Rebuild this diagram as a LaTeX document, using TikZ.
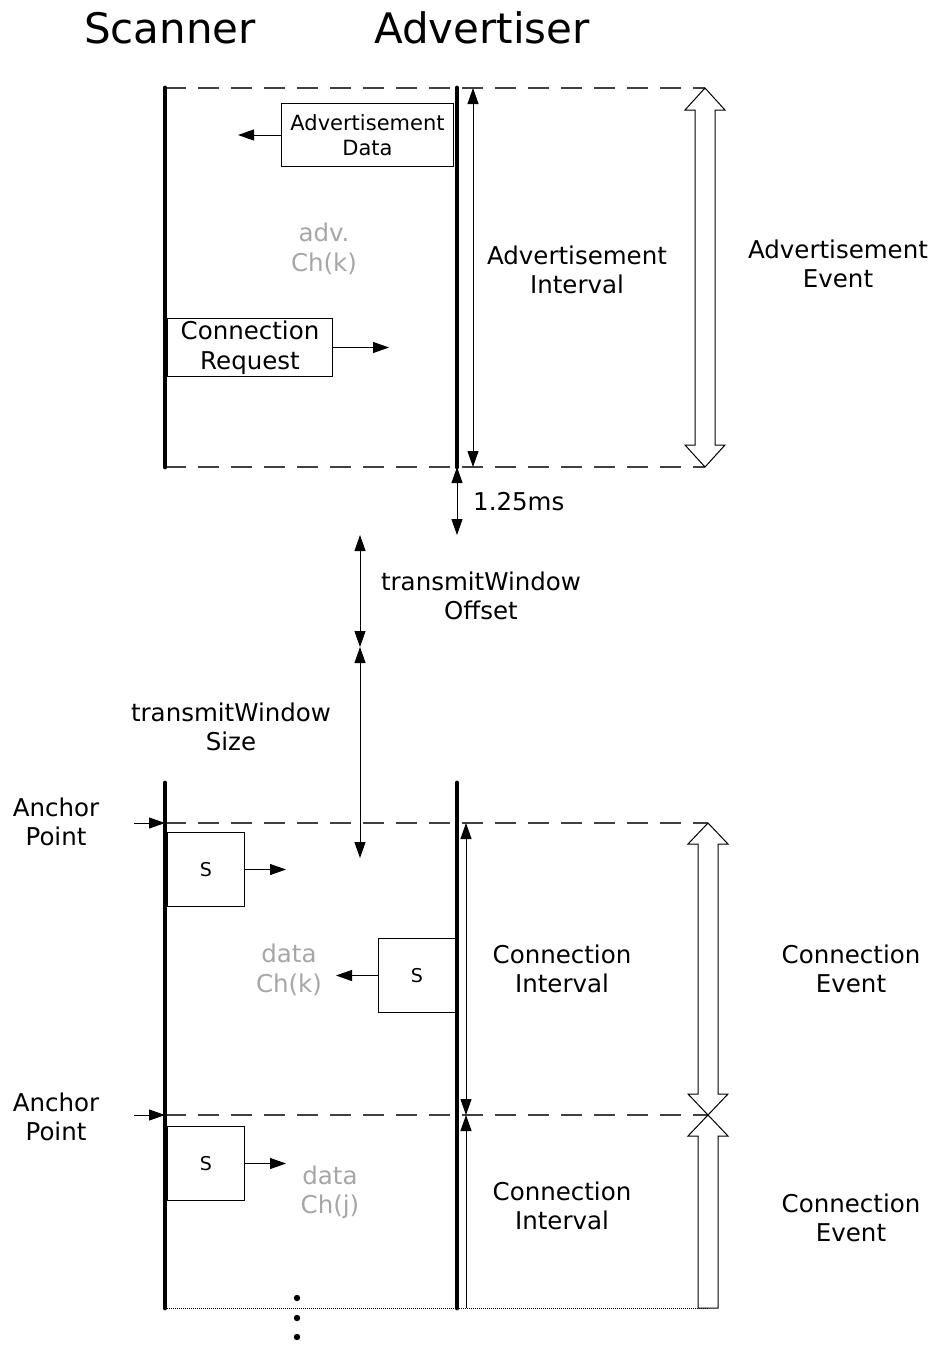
\documentclass[tikz,border=0pt]{standalone}
\usepackage{fontspec}
\setmainfont{DejaVu Sans}
\usetikzlibrary{arrows.meta,positioning,calc}
\definecolor{chgray}{HTML}{A6A6A6}
\definecolor{guidegray}{HTML}{404040}

\begin{document}
\begin{tikzpicture}[x=1pt, y=-1pt,
  lifeline/.style={line width=4.8pt, line cap=round},
  guide/.style={draw=guidegray, line width=1.2pt, dash pattern=on 21pt off 12pt},
  msgbox/.style={draw, line width=1pt, align=center, inner sep=0pt},
  lbl/.style={align=center, inner sep=0pt, font=\fontsize{24.5}{29.5}\selectfont},
  chlbl/.style={lbl, text=chgray},
  title/.style={inner sep=0pt, font=\fontsize{42}{50}\selectfont},
  arrow/.style={-{Triangle[length=16pt,width=11pt]}, line width=1pt},
  span/.style={{Triangle[length=16pt,width=11pt]}-{Triangle[length=16pt,width=11pt]}, line width=1pt},
  hollow/.style={draw, line width=1pt, fill=white, line join=miter}
]
  \useasboundingbox (0,0) rectangle (935,1345);

  % titles
  \node[title] (scanner) at (170,28) {Scanner};
  \node[title] (advertiser) at (482,28) {Advertiser};

  % --- advertising phase ---
  \coordinate (scnTop) at (165,88);   \coordinate (scnBot) at (165,467);
  \coordinate (advTop) at (457,88);   \coordinate (advBot) at (457,467);
  \coordinate (aeTop) at (705,88);    \coordinate (aeBot) at (705,467);
  \draw[guide] (scnTop) -- (aeTop);
  \draw[guide] (scnBot) -- (aeBot);

  \node[msgbox, minimum width=172pt, minimum height=63pt, anchor=north east,
        font=\fontsize{21}{25}\selectfont] (advdata) at (454,103) {Advertisement\\Data};
  \draw[arrow] (advdata.west) -- ++(-43,0) coordinate (advdataEnd);

  \node[chlbl] (advch) at (324,249) {adv.\\Ch(k)};

  \node[msgbox, minimum width=165pt, minimum height=58pt, anchor=north west,
        font=\fontsize{24.5}{29.5}\selectfont] (connreq) at (167,318) {Connection\\Request};
  \draw[arrow] (connreq.east) -- ++(56,0) coordinate (connreqEnd);

  \draw[lifeline] (scnTop) -- (scnBot);
  \draw[lifeline] (advTop) -- (advBot);

  \draw[span] (473,88) -- (473,467);
  \node[lbl] (advint) at (577,270) {Advertisement\\Interval};

  \draw[hollow] (aeTop) -- ++(20,22) -- ++(-10,0) -- ($(aeBot)+(10,-22)$) -- ++(10,0)
    -- (aeBot) -- ++(-20,-22) -- ++(10,0) -- ($(aeTop)+(-10,22)$) -- ++(-10,0) -- cycle;
  \node[lbl] (advev) at (838,264) {Advertisement\\Event};

  % --- timing ---
  \coordinate (delayEnd) at (457,535);
  \draw[span] (advBot) -- (delayEnd);
  \node[lbl, anchor=west] (delay) at (473,502) {1.25ms};

  \coordinate (offTop) at (360,535);
  \coordinate (offBot) at (360,647);
  \coordinate (sizeBot) at (360,858);
  \draw[span] (offTop) -- (offBot);
  \draw[span] (offBot) -- (sizeBot);
  \node[lbl] (offset) at (481,596) {transmitWindow\\Offset};
  \node[lbl] (size) at (231,727) {transmitWindow\\Size};

  % --- connection phase ---
  \coordinate (scnTop2) at (165,783);  \coordinate (scnBot2) at (165,1308);
  \coordinate (advTop2) at (457,783);  \coordinate (advBot2) at (457,1308);
  \coordinate (anchorA) at (165,823);  \coordinate (anchorB) at (165,1115);
  \coordinate (ceTop) at (708,823);    \coordinate (ceMid) at (708,1115);
  \coordinate (ceBot) at (708,1308);
  \draw[guide] (anchorA) -- (ceTop);
  \draw[guide] (anchorB) -- (ceMid);
  \draw[densely dotted, line width=1pt] (scnBot2) -- (ceBot);

  \node[lbl] (anchor1) at (56,822) {Anchor\\Point};
  \node[lbl] (anchor2) at (56,1117) {Anchor\\Point};
  \draw[arrow] (134,823) -- (anchorA);
  \draw[arrow] (134,1115) -- (anchorB);

  \node[msgbox, minimum width=77pt, minimum height=74pt, anchor=north west,
        font=\fontsize{19}{23}\selectfont] (s1) at (167,832) {S};
  \draw[arrow] (s1.east) -- ++(41,0) coordinate (s1End);

  \node[msgbox, minimum width=77pt, minimum height=74pt, anchor=north east,
        font=\fontsize{19}{23}\selectfont] (s2) at (456,938) {S};
  \draw[arrow] (s2.west) -- ++(-42,0) coordinate (s2End);
  \node[chlbl] (datak) at (289,970) {data\\Ch(k)};

  \node[msgbox, minimum width=77pt, minimum height=74pt, anchor=north west,
        font=\fontsize{19}{23}\selectfont] (s3) at (167,1126) {S};
  \draw[arrow] (s3.east) -- ++(41,0) coordinate (s3End);
  \node[chlbl] (dataj) at (330,1192) {data\\Ch(j)};

  \draw[lifeline] (scnTop2) -- (scnBot2);
  \draw[lifeline] (advTop2) -- (advBot2);

  \draw[span] (466,823) -- (466,1115);
  \draw[{Triangle[length=16pt,width=11pt]}-, line width=1pt] (466,1115) -- (466,1308);
  \node[lbl] (connint1) at (562,969) {Connection\\Interval};
  \node[lbl] (connint2) at (562,1206) {Connection\\Interval};

  \draw[hollow] (ceTop) -- ++(20,21) -- ++(-10,0) -- ($(ceMid)+(10,-21)$) -- ++(10,0)
    -- (ceMid) -- ++(-20,-21) -- ++(10,0) -- ($(ceTop)+(-10,21)$) -- ++(-10,0) -- cycle;
  \draw[hollow] (ceMid) -- ++(20,21) -- ++(-10,0) -- ($(ceBot)+(10,0)$)
    -- ($(ceBot)+(-10,0)$) -- ($(ceMid)+(-10,21)$) -- ++(-10,0) -- cycle;
  \node[lbl] (connev1) at (851,969) {Connection\\Event};
  \node[lbl] (connev2) at (851,1218) {Connection\\Event};

  % continuation dots
  \foreach \y in {1298,1318,1337}
    \fill (297,\y) circle (3.2pt);
\end{tikzpicture}
\end{document}
